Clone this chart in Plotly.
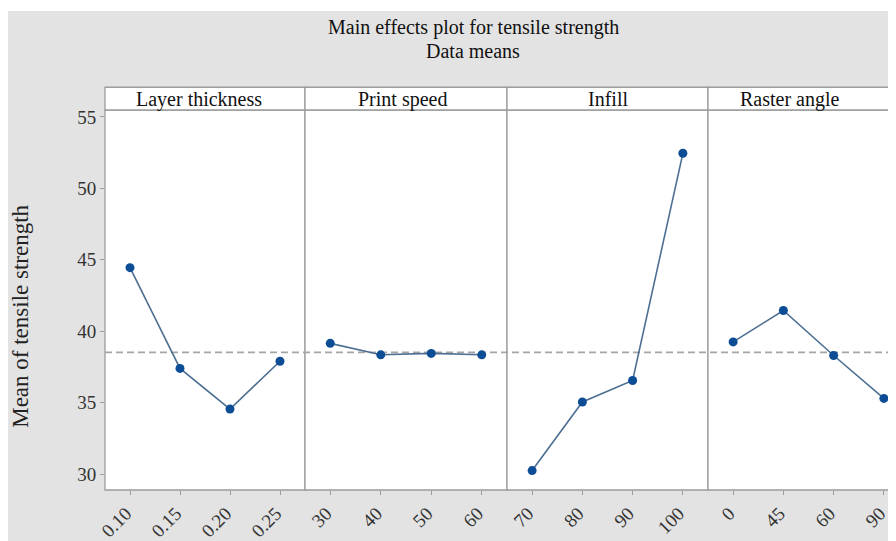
import plotly.graph_objects as go

factors = ["Layer thickness", "Print speed", "Infill", "Raster angle"]
levels = [
    ["0.10", "0.15", "0.20", "0.25"],
    ["30", "40", "50", "60"],
    ["70", "80", "90", "100"],
    ["0", "45", "60", "90"],
]
means = [
    [44.45, 37.4, 34.55, 37.9],
    [39.15, 38.35, 38.45, 38.35],
    [30.25, 35.05, 36.55, 52.45],
    [39.25, 41.45, 38.3, 35.3],
]
grand_mean = 38.52
y_ticks = [30, 35, 40, 45, 50, 55]

# page body adds an 8px margin; work in reference pixel coords and shift
OFF = 8
W, H = 896 - OFF, 541 - OFF
L = 105 - OFF
T = 110 - OFF
B = H - (494 - OFF)
PW = W - L
PH = H - T - B
panel_px = [105, 305, 507, 708, 909]
label_px = [199, 402, 608, 790]

FONT = "Liberation Serif"
GRAY_BG = "#e3e3e3"
FRAME = "#9c9c9c"
LINE_C = "#4d6f92"
MARK_C = "#0d4d96"


def px_x(p):
    return (p - OFF - L) / PW


def px_y(p):
    return (H - B - (p - OFF)) / PH


fig = go.Figure()
shapes = []
annotations = []

# gray background (white strip at top/left)
shapes.append(dict(type="rect", xref="paper", yref="paper",
                   x0=px_x(6), x1=px_x(W + OFF + 5), y0=px_y(H + OFF + 5), y1=px_y(10),
                   fillcolor=GRAY_BG, line=dict(width=0), layer="below"))

for i, (fac, lv, mv) in enumerate(zip(factors, levels, means)):
    ax = "" if i == 0 else str(i + 1)
    p0, p1 = panel_px[i], panel_px[i + 1]
    d0 = max(0.0, px_x(p0))
    d1 = min(1.0, px_x(p1))
    vis = min(p1, W + OFF) - p0
    rng = [-0.5, -0.5 + vis * 4.0 / (p1 - p0)]
    fig.add_trace(go.Scatter(
        x=lv, y=mv, xaxis="x" + ax, yaxis="y", mode="lines+markers",
        line=dict(color=LINE_C, width=1.6),
        marker=dict(color=MARK_C, size=9),
        showlegend=False, hoverinfo="x+y"))
    fig.layout["xaxis" + ax] = dict(
        domain=[d0, d1], anchor="y", type="category", range=rng,
        showgrid=False, zeroline=False, showline=False,
        ticks="outside", ticklen=4, tickcolor=FRAME, tickwidth=1,
        tickangle=-45, tickfont=dict(family=FONT, size=19, color="#333333"),
        ticklabelshift=-4,
        fixedrange=True)
    # panel frame
    shapes.append(dict(type="rect", xref="paper", yref="paper",
                       x0=px_x(p0), x1=px_x(p1), y0=0, y1=1,
                       fillcolor="white", line=dict(color=FRAME, width=1.3),
                       layer="below"))
    # strip header
    shapes.append(dict(type="rect", xref="paper", yref="paper",
                       x0=px_x(p0), x1=px_x(p1), y0=1, y1=px_y(87),
                       fillcolor="white", line=dict(color=FRAME, width=1.3),
                       layer="below"))
    annotations.append(dict(text=fac, xref="paper", yref="paper",
                            x=px_x(label_px[i]), y=px_y(99), showarrow=False,
                            xanchor="center", yanchor="middle",
                            font=dict(family=FONT, size=20, color="#111111")))

# grand mean dashed line
shapes.append(dict(type="line", xref="paper", yref="y", x0=0, x1=1,
                   y0=grand_mean, y1=grand_mean,
                   line=dict(color="#a5a5a5", width=1.6, dash="7px,4px"),
                   layer="below"))

fig.layout["yaxis"] = dict(
    domain=[0, 1], anchor="x", range=[28.89, 55.48],
    tickvals=y_ticks, showgrid=False, zeroline=False, showline=False,
    ticks="outside", ticklen=4, tickcolor=FRAME,
    tickfont=dict(family=FONT, size=19, color="#333333"), fixedrange=True)

annotations.append(dict(text="Mean of tensile strength", xref="paper", yref="paper",
                        x=px_x(21), y=px_y(319), showarrow=False, textangle=-90,
                        xanchor="center", yanchor="middle",
                        font=dict(family=FONT, size=23, color="#222222")))
annotations.append(dict(text="Main effects plot for tensile strength", xref="paper",
                        yref="paper", x=px_x(473), y=px_y(27), showarrow=False,
                        xanchor="center", yanchor="middle",
                        font=dict(family=FONT, size=20, color="#111111")))
annotations.append(dict(text="Data means", xref="paper", yref="paper",
                        x=px_x(473), y=px_y(50), showarrow=False,
                        xanchor="center", yanchor="middle",
                        font=dict(family=FONT, size=20, color="#111111")))

fig.update_layout(
    width=W, height=H,
    margin=dict(l=L, r=0, t=T, b=B, pad=0),
    paper_bgcolor="white", plot_bgcolor="rgba(0,0,0,0)",
    shapes=shapes, annotations=annotations,
    font=dict(family=FONT),
)

fig.write_html("out.html", config={"displayModeBar": False})
